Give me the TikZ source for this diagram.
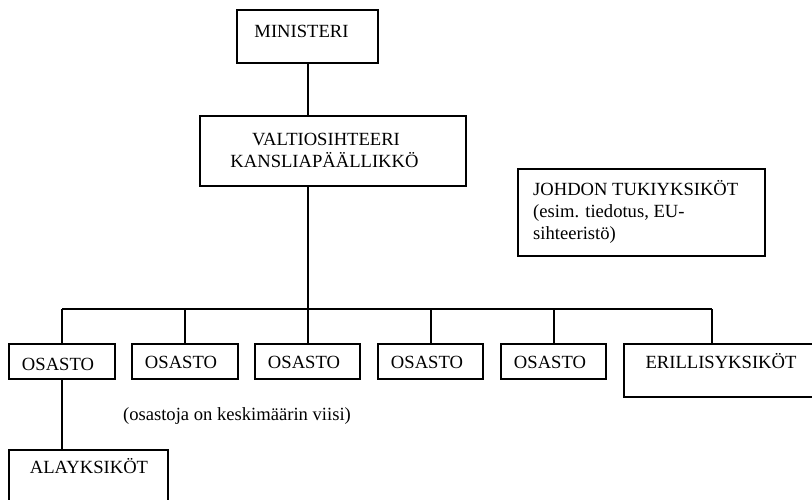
\documentclass[tikz,border=0pt]{standalone}
\usepackage{fontspec}
\setmainfont{Liberation Serif}
\begin{document}
\begin{tikzpicture}[x=1pt,y=-1pt,
  box/.style={draw,line width=1.3pt,inner sep=0pt},
  txt/.style={inner sep=0pt,anchor=base,font=\fontsize{18.6}{22}\selectfont},
  txtl/.style={txt,anchor=base west},
  conn/.style={line width=1.3pt}]
\useasboundingbox (0,0) rectangle (812,499);
\clip (0,0) rectangle (812,499);
% boxes
\node[box,minimum width=141pt,minimum height=53pt] (min) at (307.5,36.5) {};
\node[box,minimum width=266pt,minimum height=70pt] (val) at (333,151) {};
\node[box,minimum width=247pt,minimum height=87pt] (joh) at (641.5,212.5) {};
\node[box,minimum width=106pt,minimum height=35pt] (o1) at (62,361.5) {};
\node[box,minimum width=106pt,minimum height=35pt] (o2) at (185,361.5) {};
\node[box,minimum width=105pt,minimum height=35pt] (o3) at (307.5,361.5) {};
\node[box,minimum width=105pt,minimum height=35pt] (o4) at (430.5,361.5) {};
\node[box,minimum width=105pt,minimum height=35pt] (o5) at (553.5,361.5) {};
\node[box,minimum width=206pt,minimum height=53pt] (eri) at (727,370.5) {};
\node[box,minimum width=159pt,minimum height=70pt] (ala) at (88.5,485) {};
% texts
\node[txt] (tmin) at (301.5,37) {MINISTERI};
\node[txt] (tval1) at (326,145) {VALTIOSIHTEERI};
\node[txt] (tval2) at (324.5,167) {KANSLIAPÄÄLLIKKÖ};
\node[txtl] (tjoh1) at (533,195) {JOHDON TUKIYKSIKÖT};
\node[txtl] (tjoh2) at (533,217) {(esim. tiedotus, EU-};
\node[txtl] (tjoh3) at (533,239) {sihteeristö)};
\node[txt] (to1) at (58,370) {OSASTO};
\node[txt] (to2) at (181,368) {OSASTO};
\node[txt] (to3) at (304,368) {OSASTO};
\node[txt] (to4) at (427,368) {OSASTO};
\node[txt] (to5) at (550,368) {OSASTO};
\node[txt] (teri) at (721,368) {ERILLISYKSIKÖT};
\node[txt] (tala) at (89,473) {ALAYKSIKÖT};
\node[txt] (tnote) at (237,420) {(osastoja on keskimäärin viisi)};
% connectors
\coordinate (bus) at (308,309);
\coordinate (busL) at (62,309);
\coordinate (busR) at (712,309);
\coordinate (d2) at (185,309);
\coordinate (d4) at (431,309);
\coordinate (d5) at (554,309);
\draw[conn] (308,63) coordinate (m1) -- (m1 |- val.north);
\draw[conn] (m1 |- val.south) -- (bus);
\draw[conn] (busL) -- (busR);
\draw[conn] (busL) -- (o1.north);
\draw[conn] (d2) -- (o2.north);
\draw[conn] (bus) -- (bus |- o3.north);
\draw[conn] (d4) -- (d4 |- o4.north);
\draw[conn] (d5) -- (d5 |- o5.north);
\draw[conn] (busR) -- (busR |- eri.north);
\draw[conn] (o1.south) -- (o1.south |- ala.north);
\end{tikzpicture}
\end{document}
